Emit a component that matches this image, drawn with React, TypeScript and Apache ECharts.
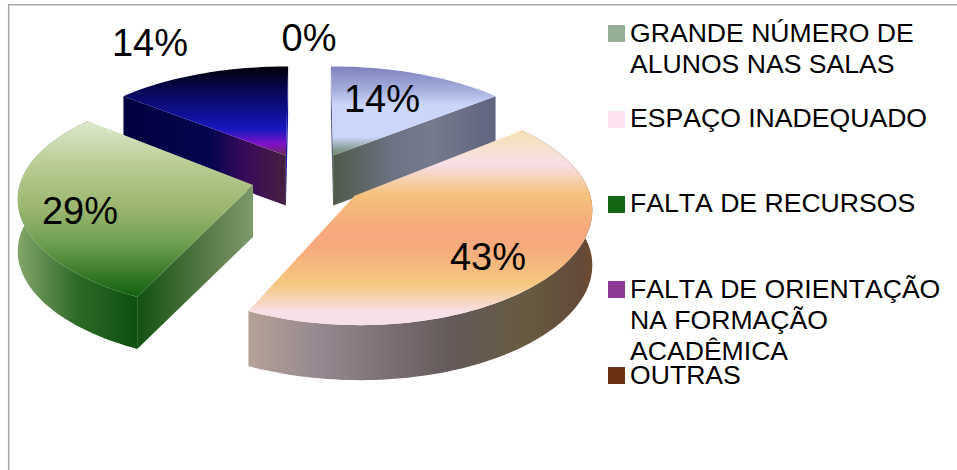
import React, { useEffect, useRef } from "react";
import * as echarts from "echarts";

const categories = [
  "GRANDE NÚMERO DE\nALUNOS NAS SALAS",
  "ESPAÇO INADEQUADO",
  "FALTA DE RECURSOS",
  "FALTA DE ORIENTAÇÃO\nNA FORMAÇÃO\nACADÊMICA",
  "OUTRAS",
];
const percents = [14, 43, 29, 14, 0];
const legendColors = ["#96ae96", "#fde3f1", "#136613", "#8b3a95", "#6a3112"];
const legendTops = [25, 111, 196, 281, 367];
const legendTextTops = [17.5, 102.5, 187.5, 273.5, 366];
const legendLineHeights = [31, 31, 31, 31, 18];
const labelCentres = [
  [382, 99],
  [488, 257],
  [80, 211],
  [150, 43],
  [309, 38],
];
const paintOrder = [2, 4, 3, 1, 0];
const sliceShiftX = [2, 1, 3, 3, 0];
const sliceDepth = [50, 55, 52, 50, 0];

type Stops = [number, string][];
const topFaces: [number, number, Stops][] = [
  [65, 155, [[0, "#7b7eba"], [0.28, "#a6b0de"], [0.45, "#ccd6fb"], [0.8, "#ccd6fb"], [0.93, "#8a9f98"], [1, "#6f8a70"]]],
  [132, 322, [[0, "#f6e2b6"], [0.17, "#f7dfe8"], [0.33, "#f5c27a"], [0.5, "#f6a97c"], [0.6, "#f6a97c"], [0.8, "#f5c880"], [0.95, "#f8e0e8"], [1, "#f8e0e8"]]],
  [122, 297, [[0, "#dce8cc"], [0.25, "#b8cc92"], [0.5, "#9ab56f"], [0.7, "#6c9e50"], [0.86, "#3b7c2a"], [1, "#126010"]]],
  [65, 155, [[0, "#000000"], [0.25, "#06064f"], [0.6, "#1212a4"], [0.72, "#1a18c0"], [0.88, "#8210c8"], [1, "#6a2a5a"]]],
];
const wallStops: Record<string, [number, number, Stops]>[] = [
  {
    end: [333, 497, [[0, "#4f5a4a"], [0.38, "#6e7485"], [0.6, "#757a8c"], [1, "#5f6480"]]],
    start: [330, 334, [[0, "#5c6488"], [1, "#5c6488"]]],
  },
  {
    outer: [247, 590, [[0, "#b5a296"], [0.21, "#968890"], [0.59, "#655a5a"], [0.82, "#665a40"], [0.97, "#644a3a"], [1, "#6c4a30"]]],
  },
  {
    outer: [18, 135, [[0, "#84a56a"], [0.5, "#2d6a28"], [1, "#0f500f"]]],
    start: [135, 253, [[0, "#0f500f"], [0.62, "#5a7a48"], [1, "#7d9a6a"]]],
  },
  {
    start: [122, 288, [[0, "#00003f"], [0.53, "#05054f"], [0.74, "#380a5a"], [1, "#46203f"]]],
    end: [286, 290, [[0, "#1414a0"], [1, "#1414a0"]]],
  },
];

// Perspective projection of the exploded disc
const CX = 307;
const CY = 179;
const SX = 232;
const SY = 107;
const PX = 0.105;
const PY = 0.135;
const EXPLODE = 0.25;
const RAD = Math.PI / 180;

function project(X: number, Y: number, drop: number, shift: number): number[] {
  return [CX + shift + (SX * X) / (1 - PX * Y), CY + (SY * Y) / (1 - PY * Y) + drop];
}

function gradient(x0: number, x1: number, stops: Stops, vertical: boolean) {
  return new echarts.graphic.LinearGradient(
    vertical ? 0 : x0,
    vertical ? x0 : 0,
    vertical ? 0 : x1,
    vertical ? x1 : 0,
    stops.map(([offset, color]) => ({ offset, color })),
    true
  );
}

function renderItem(params: any, api: any) {
  const i = params.dataIndex;
  const value = api.value(0);
  const before = percents.slice(0, i).reduce((a, b) => a + b, 0);
  const total = percents.reduce((a, b) => a + b, 0);
  const children: any[] = [];
  const z = paintOrder[i] * 10;
  const shift = sliceShiftX[i];

  if (value > 0) {
    const a0 = (before / total) * 360;
    const a1 = ((before + value) / total) * 360;
    const mid = ((a0 + a1) / 2) * RAD;
    const ox = EXPLODE * Math.sin(mid);
    const oy = -EXPLODE * Math.cos(mid);
    const arc: number[][] = [];
    const steps = Math.ceil((a1 - a0) / 1.5);
    for (let s = 0; s <= steps; s++) {
      const t = (a0 + ((a1 - a0) * s) / steps) * RAD;
      arc.push([ox + Math.sin(t), oy - Math.cos(t)]);
    }
    const up = (pts: number[][]) => pts.map((p) => project(p[0], p[1], 0, shift));
    const down = (pts: number[][]) => pts.map((p) => project(p[0], p[1], sliceDepth[i], shift));
    const walls = wallStops[i];
    const apex = [[ox, oy]];
    const addWall = (key: string, pts: number[][], zz: number) => {
      const g = walls[key];
      if (!g) return;
      children.push({
        type: "polygon",
        z2: z + zz,
        silent: true,
        shape: { points: [...up(pts), ...down(pts).reverse()] },
        style: { fill: gradient(g[0], g[1], g[2], false) },
      });
    };
    addWall("outer", arc, 1);
    addWall("start", [apex[0], arc[0]], 2);
    addWall("end", [apex[0], arc[arc.length - 1]], 2);
    const face = topFaces[i];
    children.push({
      type: "polygon",
      z2: z + 3,
      silent: true,
      shape: { points: [...up(apex), ...up(arc)] },
      style: { fill: gradient(face[0], face[1], face[2], true) },
    });
  }
  children.push({
    type: "text",
    z2: 100,
    silent: true,
    x: labelCentres[i][0],
    y: labelCentres[i][1],
    style: {
      text: `${value}%`,
      fill: "#000",
      font: '38px "Liberation Sans"',
      align: "center",
      verticalAlign: "middle",
    },
  });
  return { type: "group", children };
}

export default function App() {
  const ref = useRef<HTMLDivElement>(null);
  useEffect(() => {
    const chart = echarts.init(ref.current!, null, { renderer: "svg" });
    const legend: any[] = [];
    categories.forEach((name, i) => {
      legend.push({
        type: "rect",
        shape: { x: 608, y: legendTops[i], width: 17, height: 17 },
        style: { fill: legendColors[i] },
      });
      legend.push({
        type: "text",
        x: 630,
        y: legendTextTops[i],
        style: {
          text: name,
          fill: "#000",
          font: '26.6px "Liberation Sans"',
          lineHeight: legendLineHeights[i],
          align: "left",
          verticalAlign: "top",
        },
      });
    });
    chart.setOption({
      animation: false,
      backgroundColor: "#fff",
      graphic: [
        { type: "line", shape: { x1: 8, y1: 4.7, x2: 957, y2: 4.7 }, style: { stroke: "#a6a6a6", lineWidth: 1.5 } },
        { type: "line", shape: { x1: 8.7, y1: 4, x2: 8.7, y2: 470 }, style: { stroke: "#a6a6a6", lineWidth: 1.5 } },
        ...legend,
      ],
      series: [
        {
          type: "custom",
          coordinateSystem: "none",
          renderItem,
          data: percents.map((v, i) => ({ name: categories[i], value: [v] })),
        },
      ],
    });
    return () => chart.dispose();
  }, []);
  return (
    <>
      <style>{"svg text { font-kerning: none !important; }"}</style>
      <div ref={ref} style={{ position: "absolute", left: 0, top: 0, width: 957, height: 470 }} />
    </>
  );
}
